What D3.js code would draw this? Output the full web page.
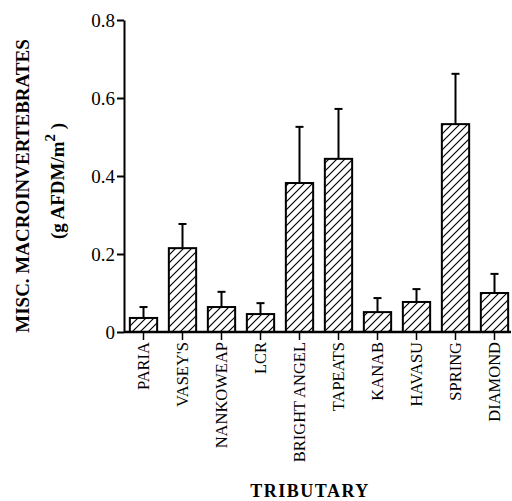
<!DOCTYPE html>
<html lang="en">
<head>
<meta charset="UTF-8">
<title>Misc. macroinvertebrates by tributary</title>
<script src="https://d3js.org/d3.v7.min.js"></script>
<style>
    body { margin: 0; background: #fff; }
    svg { display: block; }
    text { font-family: 'Liberation Serif', 'DejaVu Serif', serif; fill: #000; }
</style>
</head>
<body>
<svg width="512" height="501"></svg>
<script>
    // data
    const tributaries = ["PARIA", "VASEY'S", "NANKOWEAP", "LCR", "BRIGHT ANGEL", "TAPEATS", "KANAB", "HAVASU", "SPRING", "DIAMOND"];
    const means = [0.036, 0.215, 0.064, 0.046, 0.382, 0.444, 0.051, 0.077, 0.533, 0.100];
    const errors = [0.028, 0.062, 0.039, 0.028, 0.144, 0.128, 0.036, 0.033, 0.129, 0.049];
    const yTicks = [0, 0.2, 0.4, 0.6, 0.8];

    const svg = d3.select("svg");

    // hatch pattern "/"
    const pat = svg.append("defs").append("pattern")
        .attr("id", "hatch")
        .attr("patternUnits", "userSpaceOnUse")
        .attr("width", 8).attr("height", 8);
    pat.append("path")
        .attr("d", "M-2,2 L2,-2 M0,8 L8,0 M6,10 L10,6")
        .attr("stroke", "#000")
        .attr("stroke-width", 1.2);

    const x = d3.scaleBand()
        .domain(tributaries)
        .range([124, 514])
        .paddingInner(0.3)
        .paddingOuter(0.15);

    const y = d3.scaleLinear()
        .domain([0, 0.8])
        .range([332, 20]);

    // bars
    svg.selectAll("rect.bar")
        .data(tributaries)
        .enter()
        .append("rect")
        .attr("class", "bar")
        .attr("x", d => x(d))
        .attr("y", (d, i) => y(means[i]))
        .attr("width", x.bandwidth())
        .attr("height", (d, i) => y(0) - y(means[i]))
        .attr("fill", "url(#hatch)")
        .attr("stroke", "#000")
        .attr("stroke-width", 2);

    // error bars (upper only)
    const eb = svg.selectAll("g.err")
        .data(tributaries)
        .enter()
        .append("g")
        .attr("class", "err")
        .attr("stroke", "#000")
        .attr("stroke-width", 2);
    eb.append("line")
        .attr("x1", d => x(d) + x.bandwidth() / 2)
        .attr("x2", d => x(d) + x.bandwidth() / 2)
        .attr("y1", (d, i) => y(means[i]))
        .attr("y2", (d, i) => y(means[i] + errors[i]));
    eb.append("line")
        .attr("x1", d => x(d) + x.bandwidth() / 2 - 4)
        .attr("x2", d => x(d) + x.bandwidth() / 2 + 4)
        .attr("y1", (d, i) => y(means[i] + errors[i]))
        .attr("y2", (d, i) => y(means[i] + errors[i]));

    // y axis
    const yAxis = svg.append("g")
        .attr("transform", "translate(124,0)")
        .call(d3.axisLeft(y).tickValues(yTicks).tickSize(7).tickSizeOuter(0)
            .tickFormat(d => d === 0 ? "0" : d3.format(".1f")(d)));
    yAxis.select(".domain").attr("stroke-width", 2);
    yAxis.selectAll(".tick line").attr("stroke-width", 2);
    yAxis.selectAll(".tick text")
        .attr("x", -9)
        .style("font-size", "19px")
        .attr("font-family", null);

    // x axis
    const xAxis = svg.append("g")
        .attr("transform", "translate(0,332)")
        .call(d3.axisBottom(x).tickSize(8).tickSizeOuter(0));
    xAxis.select(".domain").attr("stroke-width", 2.5).attr("d", "M124,0H511");
    xAxis.selectAll(".tick line").attr("stroke-width", 1.5);
    xAxis.selectAll(".tick text")
        .attr("transform", "rotate(-90)")
        .attr("x", -10)
        .attr("y", 0)
        .attr("dy", "0.35em")
        .attr("text-anchor", "end")
        .style("font-size", "16.5px")
        .attr("font-family", null);

    // titles
    svg.append("text")
        .attr("transform", "translate(29,186) rotate(-90)")
        .attr("text-anchor", "middle")
        .style("font-size", "19px")
        .style("font-weight", "bold")
        .text("MISC.  MACROINVERTEBRATES");

    const t2 = svg.append("text")
        .attr("transform", "translate(64,181) rotate(-90)")
        .attr("text-anchor", "middle")
        .style("font-size", "19px")
        .style("font-weight", "bold");
    t2.append("tspan").text("(g  AFDM/m");
    t2.append("tspan").attr("dy", -9).style("font-size", "15px").text("2");
    t2.append("tspan").attr("dy", 9).text("  )");

    svg.append("text")
        .attr("x", 310)
        .attr("y", 497)
        .attr("text-anchor", "middle")
        .style("font-size", "18px")
        .style("font-weight", "bold")
        .style("letter-spacing", "1.5px")
        .text("TRIBUTARY");
</script>
</body>
</html>
